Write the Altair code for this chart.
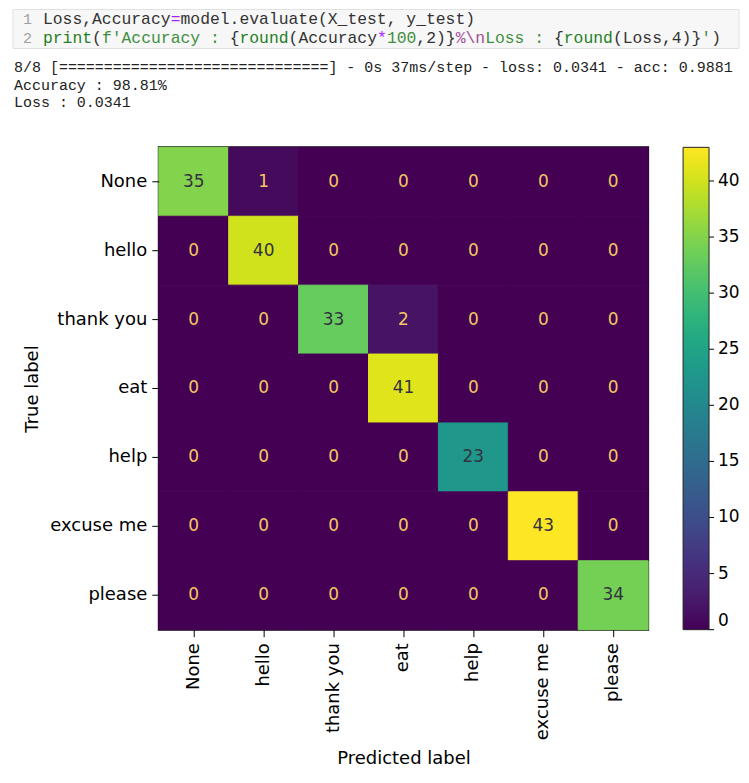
import altair as alt
import pandas as pd

# ---------------- data ----------------
class_labels = ["None", "hello", "thank you", "eat", "help", "excuse me", "please"]
counts = [
    [35, 1, 0, 0, 0, 0, 0],
    [0, 40, 0, 0, 0, 0, 0],
    [0, 0, 33, 2, 0, 0, 0],
    [0, 0, 0, 41, 0, 0, 0],
    [0, 0, 0, 0, 23, 0, 0],
    [0, 0, 0, 0, 0, 43, 0],
    [0, 0, 0, 0, 0, 0, 34],
]
color_ticks = [0, 5, 10, 15, 20, 25, 30, 35, 40]
color_max = 43

code_line_1 = [("Loss,Accuracy", "dark"), ("=", "op"), ("model.evaluate(X_test, y_test)", "dark")]
code_line_2 = [("print", "builtin"), ("(", "dark"), ("f'Accuracy : ", "str"), ("{", "dark"),
               ("round", "builtin"), ("(Accuracy", "dark"), ("*", "op"), ("100", "num"),
               (",2)}", "dark"), ("%\\n", "op2"), ("Loss : ", "str"), ("{", "dark"),
               ("round", "builtin"), ("(Loss,4)}", "dark"), ("'", "str"), (")", "dark")]
line_numbers = ["1", "2"]
output_lines = [
    "8/8 [==============================] - 0s 37ms/step - loss: 0.0341 - acc: 0.9881",
    "Accuracy : 98.81%",
    "Loss : 0.0341",
]

# ---------------- styling / layout ----------------
syntax_colors = {"dark": "#333333", "op": "#aa22ff", "op2": "#a0509a", "builtin": "#1f7f1f",
                 "str": "#3f8f3f", "num": "#3f8f3f"}
PLOT_W, PLOT_H = 490, 483
TEXT_H = 138
CODE_FS, OUT_FS = 16.4, 15.0
CODE_X0, OUT_X0, NUM_X = -116, -145, -127
CODE_Y = [10, 29]
OUT_Y = [58, 76, 93]

rows = []
for i, t in enumerate(class_labels):
    for j, p in enumerate(class_labels):
        rows.append({"true": t, "pred": p, "value": counts[i][j]})
df = pd.DataFrame(rows)

# code segments
code_rows = []
for li, segs in enumerate([code_line_1, code_line_2]):
    idx = 0
    for s, kind in segs:
        lead = len(s) - len(s.lstrip())
        code_rows.append({"px": CODE_X0 + (idx + lead) * CODE_FS * 0.6, "py": CODE_Y[li],
                          "txt": s.strip(), "col": syntax_colors[kind]})
        idx += len(s)
code_df = pd.DataFrame(code_rows)
num_df = pd.DataFrame({"px": [NUM_X, NUM_X], "py": CODE_Y, "txt": line_numbers})
out_df = pd.DataFrame({"px": [OUT_X0] * 3, "py": OUT_Y, "txt": output_lines})
box_df = pd.DataFrame({"x0": [-146], "x1": [581], "y0": [0], "y1": [39]})

mono = "Liberation Mono"
box = alt.Chart(box_df).mark_rect(fill="#f7f7f7", stroke="#e0e0e0", strokeWidth=1).encode(
    x=alt.X("x0:Q", scale=None, axis=None), x2="x1:Q",
    y=alt.Y("y0:Q", scale=None, axis=None), y2="y1:Q")
nums = alt.Chart(num_df).mark_text(font=mono, fontSize=OUT_FS, color="#a0a0a0", align="right",
                                   baseline="middle").encode(
    x=alt.X("px:Q", scale=None, axis=None), y=alt.Y("py:Q", scale=None, axis=None), text="txt:N")
code = alt.Chart(code_df).mark_text(font=mono, fontSize=CODE_FS, align="left", baseline="middle").encode(
    x=alt.X("px:Q", scale=None, axis=None), y=alt.Y("py:Q", scale=None, axis=None), text="txt:N",
    color=alt.Color("col:N", scale=None, legend=None))
out = alt.Chart(out_df).mark_text(font=mono, fontSize=OUT_FS, align="left", baseline="middle",
                                  color="#222222").encode(
    x=alt.X("px:Q", scale=None, axis=None), y=alt.Y("py:Q", scale=None, axis=None), text="txt:N")
text_panel = alt.layer(box, nums, code, out).properties(width=PLOT_W, height=TEXT_H)

font = "DejaVu Sans"
axis_common = dict(labelFontSize=18, titleFontSize=18, tickSize=7, tickColor="black", tickWidth=1,
                   domain=False, labelColor="black", titleColor="black",
                   titleFontWeight="normal", labelFont=font, titleFont=font, grid=False)
base = alt.Chart(df).encode(
    x=alt.X("pred:N", sort=class_labels, title="Predicted label",
            scale=alt.Scale(paddingInner=0, paddingOuter=0),
            axis=alt.Axis(labelAngle=-90, labelPadding=6, titlePadding=10, **axis_common)),
    y=alt.Y("true:N", sort=class_labels, title="True label",
            scale=alt.Scale(paddingInner=0, paddingOuter=0),
            axis=alt.Axis(labelPadding=5, titlePadding=8, **axis_common)),
)
viridis = alt.Scale(scheme="viridis", domain=[0, color_max])
cells = base.mark_rect(strokeWidth=1).encode(
    color=alt.Color("value:Q", scale=viridis,
                    legend=alt.Legend(orient="none", legendX=PLOT_W + 35, legendY=0,
                                      direction="vertical", title=None, values=color_ticks,
                                      gradientLength=PLOT_H, gradientThickness=26,
                                      gradientStrokeColor="#222222", gradientStrokeWidth=1,
                                      labelFontSize=17, labelFont=font, labelColor="black",
                                      labelOffset=9, labelBaseline="middle", padding=0)),
    stroke=alt.Stroke("value:Q", scale=viridis, legend=None),
)
numbers = base.mark_text(font=font, fontSize=17).encode(
    text="value:Q",
    color=alt.condition(alt.datum.value > 21.5, alt.value("#333340"), alt.value("#f3c862")),
)
matrix_layer = alt.layer(cells, numbers)

# colorbar tick marks (right side of the gradient)
cbar_df = pd.DataFrame({"tick": color_ticks})
cbar_ticks = alt.Chart(cbar_df).mark_rule(color="black", strokeWidth=1).encode(
    x=alt.value(PLOT_W + 35 + 26), x2=alt.value(PLOT_W + 35 + 26 + 5),
    y=alt.Y("tick:Q", scale=alt.Scale(domain=[0, color_max], range=[PLOT_H, 0]), axis=None),
)
heatmap_full = alt.layer(matrix_layer, cbar_ticks).resolve_scale(y="independent").properties(
    width=PLOT_W, height=PLOT_H,
    view=alt.ViewBackground(stroke="#111111", strokeWidth=2),
)

chart = alt.vconcat(text_panel, heatmap_full, spacing=0, bounds="flush").resolve_scale(
    color="independent"
).properties(
    padding={"left": 4, "top": 0, "right": 0, "bottom": 0},
    background="white",
).configure_view(stroke=None)

chart.save("out.html", embed_options={"renderer": "svg", "actions": False})
